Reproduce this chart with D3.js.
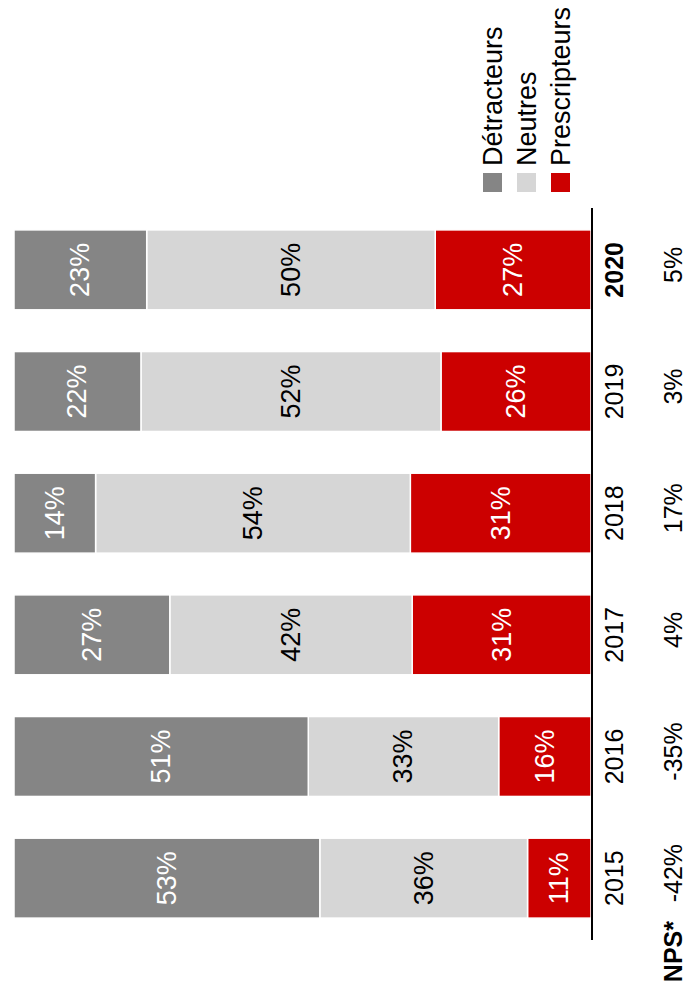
<!DOCTYPE html>
<html>
<head>
<meta charset="utf-8">
<script src="https://cdn.jsdelivr.net/npm/d3@7"></script>
<style>
  html, body { margin: 0; padding: 0; background: #fff; }
  svg { display: block; font-family: "Liberation Sans", Arial, sans-serif; }
</style>
</head>
<body>
<svg id="chart" width="688" height="1000"></svg>
<script>
const years = ["2015", "2016", "2017", "2018", "2019", "2020"];
const detracteurs = [53, 51, 27, 14, 22, 23];
const neutres = [36, 33, 42, 54, 52, 50];
const prescripteurs = [11, 16, 31, 31, 26, 27];
const npsLabels = ["-42%", "-35%", "4%", "17%", "3%", "5%"];
const seriesNames = ["Détracteurs", "Neutres", "Prescripteurs"];
const seriesColors = ["#858585", "#d6d6d6", "#cc0000"];
const labelColors = ["#ffffff", "#000000", "#ffffff"];

const rows = years.map((y, i) => ({
  year: y,
  "Prescripteurs": prescripteurs[i],
  "Neutres": neutres[i],
  "Détracteurs": detracteurs[i]
}));

const svg = d3.select("#chart");
// draw the chart in its upright frame (1000 wide x 688 tall), then rotate it
const g = svg.append("g").attr("transform", "translate(0,1000) rotate(-90)");

const x = d3.scaleBand().domain(years).range([60, 792]).paddingInner(0.343).paddingOuter(0.18);
const y = d3.scaleLinear().domain([0, 1]).range([591, 14]);
const color = d3.scaleOrdinal().domain(seriesNames).range(seriesColors);
const lblColor = d3.scaleOrdinal().domain(seriesNames).range(labelColors);

const stack = d3.stack()
  .keys(["Prescripteurs", "Neutres", "Détracteurs"])
  .offset(d3.stackOffsetExpand);
const stacked = stack(rows);

const layers = g.selectAll("g.layer").data(stacked).join("g").attr("class", "layer");
layers.selectAll("rect").data(d => d.map(v => ({ key: d.key, v }))).join("rect")
  .attr("x", d => x(d.v.data.year))
  .attr("width", x.bandwidth())
  .attr("y", d => y(d.v[1]))
  .attr("height", d => y(d.v[0]) - y(d.v[1]))
  .attr("fill", d => color(d.key))
  .attr("stroke", "#fff")
  .attr("stroke-width", 1.5);

layers.selectAll("text").data(d => d.map(v => ({ key: d.key, v }))).join("text")
  .attr("x", d => x(d.v.data.year) + x.bandwidth() / 2)
  .attr("y", d => (y(d.v[0]) + y(d.v[1])) / 2)
  .attr("text-anchor", "middle")
  .attr("dominant-baseline", "central")
  .attr("font-size", 27)
  .attr("fill", d => lblColor(d.key))
  .text(d => d.v.data[d.key] + "%");

// baseline axis
const axis = g.append("g").attr("transform", "translate(0,592)")
  .call(d3.axisBottom(x).tickSize(0).tickPadding(0));
axis.select(".domain").attr("stroke", "#000").attr("stroke-width", 2)
  .attr("d", `M${x.range()[0]},0H${x.range()[1]}`);
axis.selectAll(".tick text")
  .attr("y", 31)
  .attr("dy", 0)
  .attr("font-size", 25)
  .attr("font-family", "Liberation Sans, Arial, sans-serif")
  .attr("fill", "#000")
  .attr("font-weight", d => d === "2020" ? "bold" : "normal");

// NPS row
g.selectAll("text.nps").data(years).join("text")
  .attr("class", "nps")
  .attr("x", d => x(d) + x.bandwidth() / 2 + 5)
  .attr("y", 682)
  .attr("text-anchor", "middle")
  .attr("font-size", 25)
  .text((d, i) => npsLabels[i]);

g.append("text")
  .attr("x", 79)
  .attr("y", 682)
  .attr("text-anchor", "end")
  .attr("font-size", 25)
  .attr("font-weight", "bold")
  .text("NPS*");

// legend
const legend = g.append("g").selectAll("g").data(seriesNames).join("g")
  .attr("transform", (d, i) => `translate(808,${483 + i * 34})`);
legend.append("rect")
  .attr("width", 19).attr("height", 19)
  .attr("fill", d => color(d));
legend.append("text")
  .attr("x", 26)
  .attr("y", 19)
  .attr("font-size", 27)
  .text(d => d);
</script>
</body>
</html>
